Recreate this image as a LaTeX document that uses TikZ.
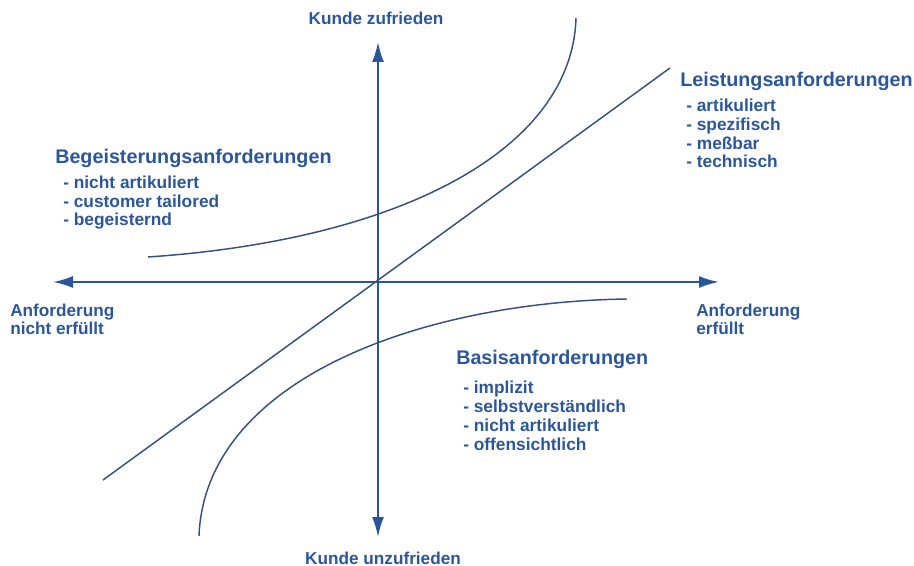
\documentclass[tikz,border=0pt]{standalone}
\usepackage{fontspec}
\setmainfont{Liberation Sans}
\usetikzlibrary{arrows.meta}

\definecolor{kanotext}{HTML}{2B579A}
\definecolor{kanoaxis}{HTML}{2A5699}
\definecolor{kanocurve}{HTML}{36517F}

\begin{document}
\begin{tikzpicture}[x=0.75pt,y=-0.75pt,
  axis/.style={draw=kanoaxis, line width=1.6pt,
    {Latex[length=15pt,width=9pt]}-{Latex[length=15pt,width=9pt]}},
  curve/.style={draw=kanocurve, line width=1.1pt},
  heading/.style={anchor=base west, inner sep=0pt, text=kanotext,
    font=\bfseries\fontsize{14.8}{17}\selectfont},
  item/.style={anchor=base west, inner sep=0pt, text=kanotext,
    font=\bfseries\fontsize{13}{16}\selectfont},
  axislabel/.style={inner sep=0pt, text=kanotext,
    font=\bfseries\fontsize{12.9}{15}\selectfont},
]
\useasboundingbox (0,0) rectangle (914,566);

% axes
\coordinate (origin) at (378,282);
\coordinate (west)   at (53,282);
\coordinate (east)   at (719,282);
\coordinate (north)  at (378,42);
\coordinate (south)  at (378,537);
\draw[axis] (west) -- (east);
\draw[axis] (south) -- (north);

% performance line
\coordinate (perfLow)  at (103,480);
\coordinate (perfHigh) at (670,68);
\draw[curve] (perfLow) -- (perfHigh);

% delighter curve
\coordinate (delStart) at (148,257);
\coordinate (delEnd)   at (576,18);
\draw[curve] (delStart) .. controls (400,240) and (572,150) .. (delEnd);

% basic curve
\coordinate (basStart) at (627,299);
\coordinate (basEnd)   at (199,536);
\draw[curve] (basStart) .. controls (420,302) and (205,380) .. (basEnd);

% axis labels
\node[axislabel, anchor=base] (satisfied)   at (376,25)  {Kunde zufrieden};
\node[axislabel, anchor=base] (dissatisfied) at (383,564) {Kunde unzufrieden};
\node[axislabel, anchor=base west] (notmetA) at (10,316.7) {Anforderung};
\node[axislabel, anchor=base west] (notmetB) at (10,335)   {nicht erfüllt};
\node[axislabel, anchor=base west] (metA)    at (696,316.7) {Anforderung};
\node[axislabel, anchor=base west] (metB)    at (696,335)   {erfüllt};

% performance requirements
\node[heading] (perfTitle) at (680,86.5) {Leistungsanforderungen};
\foreach \t [count=\i] in {artikuliert, spezifisch, meßbar, technisch}
  \node[item] (perfItem\i) at (686,{112+18.6*(\i-1)}) {- \t};

% excitement requirements
\node[heading] (delTitle) at (55,163.5) {Begeisterungsanforderungen};
\foreach \t [count=\i] in {nicht artikuliert, customer tailored, begeisternd}
  \node[item] (delItem\i) at (63,{189+18.4*(\i-1)}) {- \t};

% basic requirements
\node[heading] (basTitle) at (456,365) {Basisanforderungen};
\foreach \t [count=\i] in {implizit, selbstverständlich, nicht artikuliert, offensichtlich}
  \node[item] (basItem\i) at (463,{394+18.7*(\i-1)}) {- \t};
\end{tikzpicture}
\end{document}
